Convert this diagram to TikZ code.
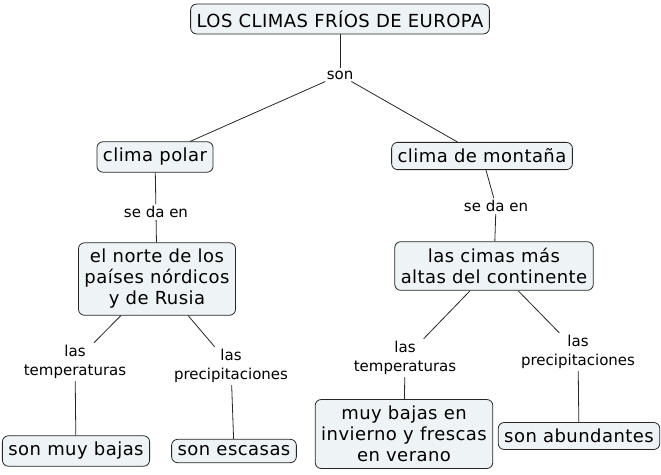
\documentclass[tikz,border=0pt]{standalone}
\usepackage{fontspec}
\setmainfont{DejaVu Sans}
\newfontfamily\conceptfont[LetterSpace=2.5]{DejaVu Sans}
\usetikzlibrary{positioning}
\definecolor{cmapfill}{RGB}{238,243,245}
\tikzset{
  concept/.style={draw=black!85,fill=cmapfill,rounded corners=6pt,line width=0.8pt,
    font=\conceptfont\fontsize{18}{21}\selectfont,align=center,inner xsep=6pt,inner ysep=6.5pt},
  linkword/.style={font=\fontsize{15}{19.5}\selectfont,align=center,inner sep=2pt},
  conn/.style={draw=black!85,line width=0.8pt}
}
\begin{document}
\begin{tikzpicture}[x=1pt,y=-1pt]
\useasboundingbox (0,0) rectangle (661,474);
% conceptos
\node[concept] (eur) at (340,19) {LOS CLIMAS FRÍOS DE EUROPA};
\node[concept] (pol) at (155,157) {clima polar};
\node[concept] (mon) at (482,156) {clima de montaña};
\node[concept] (norte) at (157,279) {el norte de los\\países nórdicos\\y de Rusia};
\node[concept] (cimas) at (494,266) {las cimas más\\altas del continente};
\node[concept] (bajas) at (76,451) {son muy bajas};
\node[concept] (escas) at (234,451) {son escasas};
\node[concept] (invi) at (404,434) {muy bajas en\\invierno y frescas\\en verano};
\node[concept] (abund) at (579,436) {son abundantes};
% palabras de enlace
\node[linkword] (son) at (340,75) {son};
\node[linkword] (dapol) at (156,212) {se da en};
\node[linkword] (damon) at (496,206) {se da en};
\node[linkword] (tmpl) at (75,362) {las\\temperaturas};
\node[linkword] (prpl) at (231,366) {las\\precipitaciones};
\node[linkword] (tmpr) at (405,358) {las\\temperaturas};
\node[linkword] (prpr) at (578,352) {las\\precipitaciones};
% enlaces
\draw[conn] (eur)--(son); \draw[conn] (son)--(pol); \draw[conn] (son)--(mon);
\draw[conn] (pol)--(dapol); \draw[conn] (dapol)--(norte);
\draw[conn] (mon)--(damon); \draw[conn] (damon)--(cimas);
\draw[conn] (norte)--(tmpl); \draw[conn] (tmpl)--(bajas);
\draw[conn] (norte)--(prpl); \draw[conn] (prpl)--(escas);
\draw[conn] (cimas)--(tmpr); \draw[conn] (tmpr)--(invi);
\draw[conn] (cimas)--(prpr); \draw[conn] (prpr)--(abund);
\end{tikzpicture}
\end{document}
